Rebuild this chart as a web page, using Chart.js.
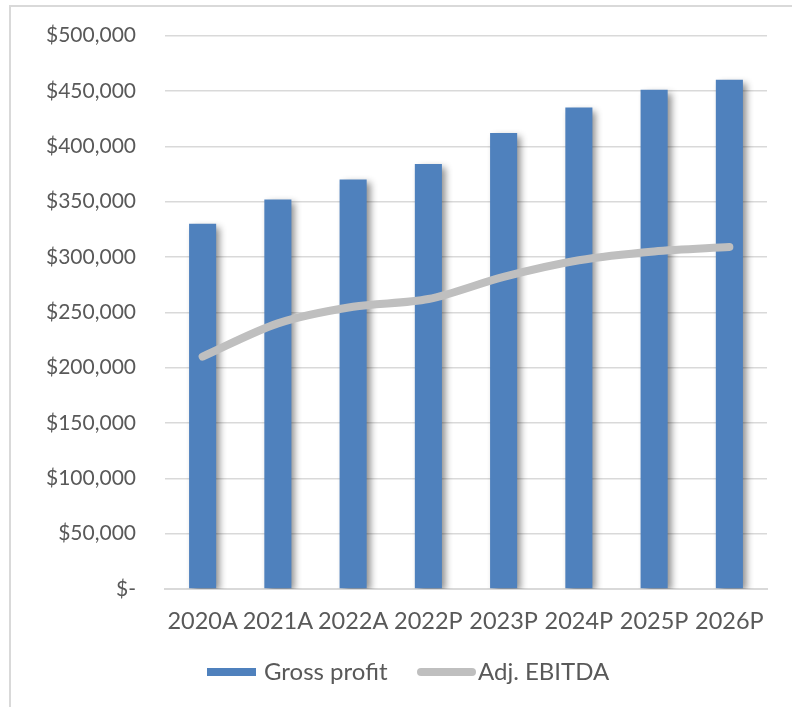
<!DOCTYPE html>
<html>
<head>
<meta charset="utf-8">
<script src="https://cdn.jsdelivr.net/npm/chart.js@4.4.1/dist/chart.umd.min.js"></script>
<style>
  html, body { margin: 0; padding: 0; background: #ffffff; }
  #wrap { position: relative; width: 792px; height: 707px; overflow: hidden; }
  #frame { position: absolute; left: 9px; top: 5px; width: 800px; height: 720px;
           border-left: 2px solid #D9D9D9; border-top: 2px solid #D9D9D9; box-sizing: border-box; }
  canvas { position: absolute; left: 0; top: -6px; }
</style>
</head>
<body>
<div id="wrap">
  <div id="frame"></div>
  <canvas id="c" width="792" height="713"></canvas>
</div>
<script>
const categories = ['2020A', '2021A', '2022A', '2022P', '2023P', '2024P', '2025P', '2026P'];
const grossProfit = [330000, 352000, 370000, 384000, 412000, 435000, 451000, 460000];
const adjEbitda = [210000, 240000, 255000, 262000, 282000, 297000, 305000, 309000];
const yTickLabels = ['$-', '$50,000', '$100,000', '$150,000', '$200,000', '$250,000',
                     '$300,000', '$350,000', '$400,000', '$450,000', '$500,000'];

const FONT = 'Lato, "Open Sans", sans-serif';
const TEXT = '#595959';

const shadowPlugin = {
  id: 'barShadow',
  beforeDatasetDraw(chart, args) {
    if (chart.data.datasets[args.index].type === 'bar') {
      const ctx = chart.ctx;
      ctx.save();
      ctx.shadowColor = 'rgba(0,0,0,0.45)';
      ctx.shadowBlur = 7;
      ctx.shadowOffsetX = 4;
      ctx.shadowOffsetY = 3;
    }
  },
  afterDatasetDraw(chart, args) {
    if (chart.data.datasets[args.index].type === 'bar') {
      chart.ctx.restore();
    }
  }
};

const legendPlugin = {
  id: 'customLegend',
  afterDraw(chart) {
    const ctx = chart.ctx;
    const ds = chart.data.datasets;
    ctx.save();
    ctx.font = '24px ' + FONT;
    ctx.textBaseline = 'middle';
    ctx.fillStyle = TEXT;
    const y = 678;
    const bar = ds.find(d => d.type === 'bar');
    const line = ds.find(d => d.type === 'line');
    ctx.fillStyle = bar.backgroundColor;
    ctx.fillRect(207, y - 4, 49, 8);
    ctx.fillStyle = TEXT;
    ctx.textAlign = 'left';
    ctx.fillText(bar.label, 264, y);
    ctx.strokeStyle = line.borderColor;
    ctx.lineWidth = 8;
    ctx.lineCap = 'round';
    ctx.beginPath();
    ctx.moveTo(421, y);
    ctx.lineTo(472, y);
    ctx.stroke();
    ctx.fillText(line.label, 478, y);
    ctx.restore();
  }
};

new Chart(document.getElementById('c'), {
  data: {
    labels: categories,
    datasets: [
      {
        type: 'line',
        label: 'Adj. EBITDA',
        data: adjEbitda,
        borderColor: '#BFBFBF',
        backgroundColor: '#BFBFBF',
        borderWidth: 8,
        borderCapStyle: 'round',
        borderJoinStyle: 'round',
        pointRadius: 0,
        tension: 0.3,
        order: 1
      },
      {
        type: 'bar',
        label: 'Gross profit',
        data: grossProfit,
        backgroundColor: '#4F81BD',
        borderWidth: 0,
        barPercentage: 1,
        categoryPercentage: 0.36,
        order: 2
      }
    ]
  },
  options: {
    responsive: false,
    animation: false,
    devicePixelRatio: 1,
    layout: { padding: { left: 0, right: 25, top: 18, bottom: 0 } },
    plugins: {
      legend: { display: false },
      tooltip: { enabled: false }
    },
    scales: {
      x: {
        offset: true,
        grid: { display: false, drawTicks: false },
        border: { display: true, color: '#D9D9D9', width: 2 },
        ticks: { color: TEXT, font: { family: FONT, size: 23.5 }, padding: 18, maxRotation: 0, autoSkip: false },
        afterFit(scale) { scale.height = 118; }
      },
      y: {
        min: 0,
        max: 500000,
        grid: { color: '#D9D9D9', lineWidth: 1.5, drawTicks: false },
        border: { display: false },
        ticks: {
          stepSize: 50000,
          color: TEXT,
          font: { family: FONT, size: 21 },
          padding: 29,
          callback: (v) => yTickLabels[Math.round(v / 50000)]
        },
        afterFit(scale) { scale.width = 165; }
      }
    }
  },
  plugins: [shadowPlugin, legendPlugin]
});
</script>
</body>
</html>
